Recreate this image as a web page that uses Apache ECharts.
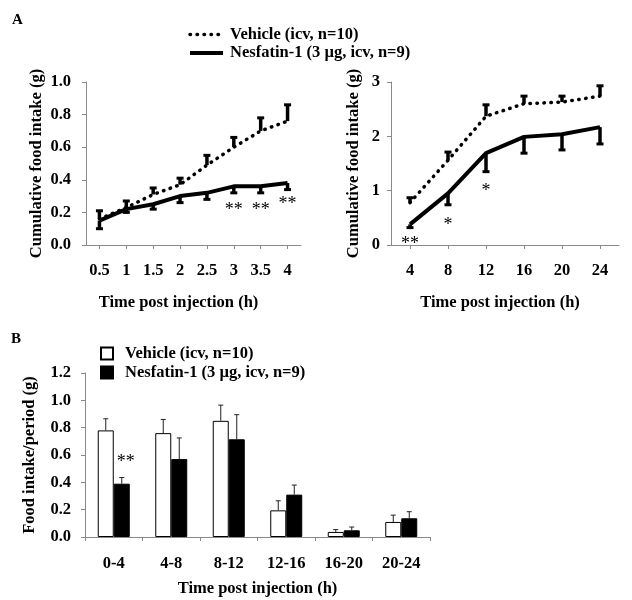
<!DOCTYPE html>
<html>
<head>
<meta charset="utf-8">
<script src="https://cdn.jsdelivr.net/npm/echarts@6/dist/echarts.min.js"></script>
<style>html,body{margin:0;padding:0;background:#fff;}#c{width:632px;height:600px;}</style>
</head>
<body>
<div id="c"></div>
<script>
// ---- Data ----
const vehName = 'Vehicle (icv, n=10)';
const nesName = 'Nesfatin-1 (3 µg, icv, n=9)';

// Panel A (left): 0.5–4 h
const catsA1 = ['0.5','1','1.5','2','2.5','3','3.5','4'];
const vehA1 = [0.16,0.23,0.31,0.37,0.49,0.60,0.70,0.76];
const vehA1Sem = [0.05,0.04,0.04,0.04,0.06,0.06,0.08,0.10];
const nesA1 = [0.15,0.22,0.25,0.30,0.32,0.36,0.36,0.38];
const nesA1Sem = [0.05,0.02,0.03,0.04,0.04,0.04,0.04,0.04];
const sigA1Cats = ['3','3.5','4'];
const sigA1Y = [0.235,0.235,0.276];
const sigA1Text = ['**','**','**'];

// Panel A (right): 4–24 h
const catsA2 = ['4','8','12','16','20','24'];
const vehA2 = [0.78,1.56,2.37,2.60,2.63,2.74];
const vehA2Sem = [0.09,0.15,0.21,0.14,0.11,0.19];
const nesA2 = [0.38,0.95,1.69,1.99,2.04,2.17];
const nesA2Sem = [0.06,0.21,0.34,0.30,0.29,0.31];
const sigA2Cats = ['4','8','12'];
const sigA2Y = [0.09,0.43,1.07];
const sigA2Text = ['**','*','*'];

// Panel B: food intake per period
const catsB = ['0-4','4-8','8-12','12-16','16-20','20-24'];
const vehB = [0.78,0.76,0.85,0.195,0.037,0.11];
const vehBSem = [0.085,0.10,0.115,0.07,0.017,0.05];
const nesB = [0.39,0.57,0.715,0.31,0.049,0.137];
const nesBSem = [0.045,0.155,0.18,0.07,0.024,0.048];
const sigBCats = ['0-4'];
const sigBY = [0.575];
const sigBText = ['**'];

// ---- Styles ----
const F = 'Liberation Serif';
const AX = '#8a8a8a';
const FS = 16.5;
const txt = (size) => ({fontFamily: F, fontWeight: 'bold', fontSize: size, color: '#000'});
const BAR_W = 16;
const DOT_LINE = {color: '#000', width: 3.5, type: [0.5, 6.5], cap: 'round'};
const SOLID_LINE = {color: '#000', width: 4, type: 'solid'};

function axisCommon() {
  return {
    axisLine: {show: true, lineStyle: {color: AX, width: 1}},
    axisTick: {show: true, length: 4, lineStyle: {color: AX, width: 1}},
    splitLine: {show: false}
  };
}

function errData(cats, means, sems, dir) {
  return cats.map((c, i) => [i, means[i], means[i] + dir * sems[i]]);
}

function errThick(params, api) {
  const c0 = api.coord([api.value(0), api.value(1)]);
  const c1 = api.coord([api.value(0), api.value(2)]);
  return {type: 'group', children: [
    {type: 'line', shape: {x1: c0[0], y1: c0[1], x2: c1[0], y2: c1[1]}, style: {stroke: '#000', lineWidth: 3.5}},
    {type: 'line', shape: {x1: c1[0] - 3.5, y1: c1[1], x2: c1[0] + 3.5, y2: c1[1]}, style: {stroke: '#000', lineWidth: 3}}
  ]};
}

function errThin(dx) {
  return function (params, api) {
    const c0 = api.coord([api.value(0), api.value(1)]);
    const c1 = api.coord([api.value(0), api.value(2)]);
    const x = c0[0] + dx;
    return {type: 'group', children: [
      {type: 'line', shape: {x1: x, y1: c0[1], x2: x, y2: c1[1]}, style: {stroke: '#222', lineWidth: 1}},
      {type: 'line', shape: {x1: x - 2.5, y1: c1[1], x2: x + 2.5, y2: c1[1]}, style: {stroke: '#222', lineWidth: 1}}
    ]};
  };
}

function sigSeries(xi, yi, cats, ys, texts, dx) {
  return {
    type: 'custom', xAxisIndex: xi, yAxisIndex: yi, z: 10,
    data: cats.map((c, i) => [c, ys[i]]),
    renderItem: function (params, api) {
      const p = api.coord([api.value(0), api.value(1)]);
      return {type: 'text', x: p[0] + (dx || 0), y: p[1] + 4,
        style: {text: texts[params.dataIndex], fontFamily: F, fontSize: 18, fill: '#000', align: 'center', verticalAlign: 'middle'}};
    }
  };
}

const option = {
  animation: false,
  backgroundColor: '#fff',
  title: [
    {text: 'A', left: 7, top: 8, textStyle: txt(15)},
    {text: 'B', left: 6, top: 327, textStyle: txt(15)}
  ],
  legend: [
    {
      data: [{name: vehName, lineStyle: DOT_LINE}, {name: nesName, lineStyle: SOLID_LINE}],
      orient: 'vertical', left: 188, top: 26, padding: 0,
      itemWidth: 33, itemHeight: 14, itemGap: 1.5,
      itemStyle: {opacity: 0},
      textStyle: Object.assign(txt(FS), {padding: [0, 0, 0, 2]}),
      selectedMode: false
    },
    {
      data: ['BVeh', 'BNes'], orient: 'vertical', left: 100, top: 345, padding: 0,
      icon: 'rect', itemWidth: 12, itemHeight: 12, itemGap: 2,
      formatter: (n) => n === 'BVeh' ? vehName : nesName,
      textStyle: Object.assign(txt(FS), {padding: [0, 0, 0, 7]}),
      selectedMode: false
    }
  ],
  grid: [
    {left: 86, top: 82, width: 215, height: 163},
    {left: 391, top: 82, width: 228, height: 163},
    {left: 85, top: 373, width: 345, height: 164}
  ],
  xAxis: [
    Object.assign(axisCommon(), {
      gridIndex: 0, type: 'category', data: catsA1, boundaryGap: true,
      axisTick: {show: true, alignWithLabel: true, length: 4, lineStyle: {color: AX}},
      axisLabel: Object.assign(txt(FS), {margin: 17}),
      name: 'Time post injection (h)', nameLocation: 'middle', nameGap: 49,
      nameTextStyle: Object.assign(txt(FS), {padding: [0, 30, 0, 0]})
    }),
    Object.assign(axisCommon(), {
      gridIndex: 1, type: 'category', data: catsA2, boundaryGap: true,
      axisTick: {show: true, alignWithLabel: true, length: 4, lineStyle: {color: AX}},
      axisLabel: Object.assign(txt(FS), {margin: 17}),
      name: 'Time post injection (h)', nameLocation: 'middle', nameGap: 49,
      nameTextStyle: Object.assign(txt(FS), {padding: [0, 10, 0, 0]})
    }),
    Object.assign(axisCommon(), {
      gridIndex: 2, type: 'category', data: catsB, boundaryGap: true,
      axisLabel: Object.assign(txt(FS), {margin: 18}),
      name: 'Time post injection (h)', nameLocation: 'middle', nameGap: 43,
      nameTextStyle: txt(FS)
    })
  ],
  yAxis: [
    Object.assign(axisCommon(), {
      gridIndex: 0, type: 'value', min: 0, max: 1, interval: 0.2,
      axisLabel: Object.assign(txt(FS), {margin: 15, formatter: (v) => v.toFixed(1)}),
      name: 'Cumulative food intake (g)', nameLocation: 'middle', nameGap: 41, nameRotate: 90,
      nameTextStyle: txt(FS)
    }),
    Object.assign(axisCommon(), {
      gridIndex: 1, type: 'value', min: 0, max: 3, interval: 1,
      axisLabel: Object.assign(txt(FS), {margin: 11}),
      name: 'Cumulative food intake (g)', nameLocation: 'middle', nameGap: 29, nameRotate: 90,
      nameTextStyle: txt(FS)
    }),
    Object.assign(axisCommon(), {
      gridIndex: 2, type: 'value', min: 0, max: 1.2, interval: 0.2,
      axisLabel: Object.assign(txt(FS), {margin: 14, formatter: (v) => v.toFixed(1)}),
      name: 'Food intake/period (g)', nameLocation: 'middle', nameGap: 47, nameRotate: 90,
      nameTextStyle: txt(FS)
    })
  ],
  series: [
    // Panel A left
    {name: vehName, type: 'line', xAxisIndex: 0, yAxisIndex: 0, data: vehA1, symbol: 'none',
      lineStyle: DOT_LINE, itemStyle: {color: '#000'}},
    {name: nesName, type: 'line', xAxisIndex: 0, yAxisIndex: 0, data: nesA1, symbol: 'none',
      lineStyle: SOLID_LINE, itemStyle: {color: '#000'}},
    {type: 'custom', xAxisIndex: 0, yAxisIndex: 0, z: 5, data: errData(catsA1, vehA1, vehA1Sem, 1), renderItem: errThick},
    {type: 'custom', xAxisIndex: 0, yAxisIndex: 0, z: 5, data: errData(catsA1, nesA1, nesA1Sem, -1), renderItem: errThick},
    sigSeries(0, 0, sigA1Cats, sigA1Y, sigA1Text),
    // Panel A right
    {name: vehName, type: 'line', xAxisIndex: 1, yAxisIndex: 1, data: vehA2, symbol: 'none',
      lineStyle: DOT_LINE, itemStyle: {color: '#000'}},
    {name: nesName, type: 'line', xAxisIndex: 1, yAxisIndex: 1, data: nesA2, symbol: 'none',
      lineStyle: SOLID_LINE, itemStyle: {color: '#000'}},
    {type: 'custom', xAxisIndex: 1, yAxisIndex: 1, z: 5, data: errData(catsA2, vehA2, vehA2Sem, 1), renderItem: errThick},
    {type: 'custom', xAxisIndex: 1, yAxisIndex: 1, z: 5, data: errData(catsA2, nesA2, nesA2Sem, -1), renderItem: errThick},
    sigSeries(1, 1, sigA2Cats, sigA2Y, sigA2Text),
    // Panel B
    {name: 'BVeh', type: 'bar', xAxisIndex: 2, yAxisIndex: 2, data: vehB, barWidth: BAR_W, barGap: '0%',
      itemStyle: {color: '#fff', borderColor: '#000', borderWidth: 1}},
    {name: 'BNes', type: 'bar', xAxisIndex: 2, yAxisIndex: 2, data: nesB, barWidth: BAR_W, barGap: '0%',
      itemStyle: {color: '#000', borderColor: '#000', borderWidth: 1}},
    {type: 'custom', xAxisIndex: 2, yAxisIndex: 2, z: 5, data: errData(catsB, vehB, vehBSem, 1), renderItem: errThin(-BAR_W / 2)},
    {type: 'custom', xAxisIndex: 2, yAxisIndex: 2, z: 5, data: errData(catsB, nesB, nesBSem, 1), renderItem: errThin(BAR_W / 2)},
    sigSeries(2, 2, sigBCats, sigBY, sigBText, BAR_W / 2 + 4)
  ]
};

const chart = echarts.init(document.getElementById('c'), null, {renderer: 'canvas'});
chart.setOption(option);
</script>
</body>
</html>
